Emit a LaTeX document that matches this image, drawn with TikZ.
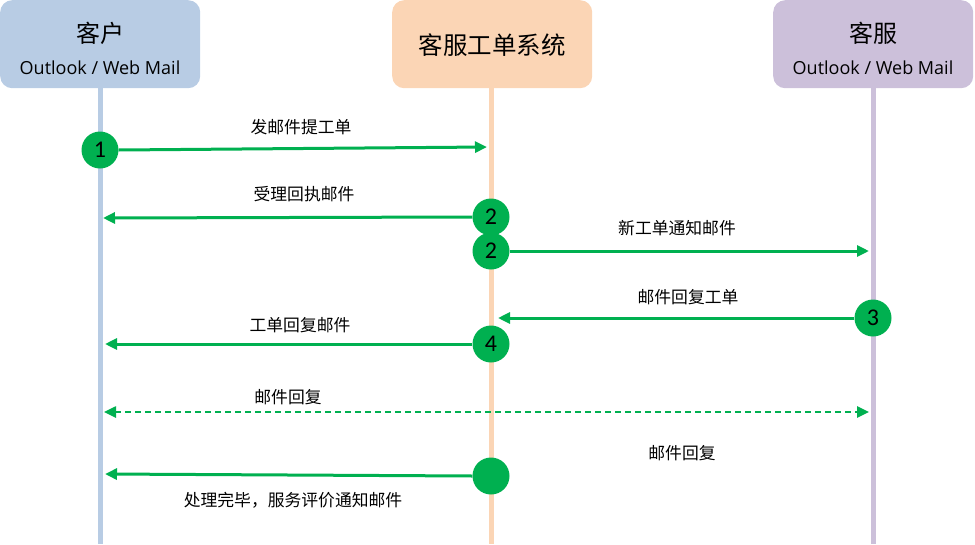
\documentclass[tikz,border=0pt]{standalone}
\usepackage{fontspec}
\setmainfont{Noto Sans CJK SC}
\newfontfamily\latinf{Open Sans}
\newfontfamily\numf{Carlito}
\usetikzlibrary{arrows.meta}
\definecolor{cblue}{HTML}{B8CCE4}
\definecolor{corange}{HTML}{FBD5B5}
\definecolor{cpurple}{HTML}{CCC0DA}
\definecolor{cgreen}{HTML}{00B050}
\begin{document}
\begin{tikzpicture}[x=1pt,y=-1pt,
  head/.style={rounded corners=12pt, minimum width=200pt, minimum height=88pt, inner sep=0pt, anchor=north west},
  life/.style={line width=5pt},
  msg/.style={cgreen, line width=3pt, -{Triangle[length=12pt,width=11pt]}},
  badge/.style={circle, fill=cgreen, minimum size=37pt, inner sep=0pt, font=\numf\fontsize{24}{24}\selectfont},
  lbl/.style={font=\fontsize{16.8}{16.8}\selectfont, inner sep=0pt}
]
\useasboundingbox (0,0) rectangle (975,544);
% lifelines
\draw[life, cblue] (100,80) -- (100,544);
\draw[life, corange] (491,80) -- (491,544);
\draw[life, cpurple] (873,80) -- (873,544);
% heads
\node[head, fill=cblue] (hc) at (0,0) {};
\node[head, fill=corange] (hs) at (392,0) {};
\node[head, fill=cpurple] (ha) at (773,0) {};
\node[font=\fontsize{24}{24}\selectfont, inner sep=0pt] (tc) at (100,33) {客户};
\node[font=\latinf\fontsize{18}{18}\selectfont, inner sep=0pt] (oc) at (100,68) {Outlook / Web Mail};
\node[font=\fontsize{24.5}{24.5}\selectfont, inner sep=0pt] (ts) at (492,45) {客服工单系统};
\node[font=\fontsize{24}{24}\selectfont, inner sep=0pt] (ta) at (873,33) {客服};
\node[font=\latinf\fontsize{18}{18}\selectfont, inner sep=0pt] (oa) at (873,68) {Outlook / Web Mail};
% endpoints
\coordinate (e1) at (487,147);
\coordinate (e2) at (103,218);
\coordinate (e3) at (869,251);
\coordinate (e4) at (498,318);
\coordinate (e5) at (105,344);
\coordinate (e6a) at (104,412);
\coordinate (e6b) at (869,412);
\coordinate (e7) at (105,474);
% badges
\node[badge] (b1) at (100,150) {1};
\node[badge] (b2) at (491,217) {2};
\node[badge] (b3) at (491,251) {2};
\node[badge] (b4) at (873,318) {3};
\node[badge] (b5) at (491,344) {4};
\node[badge] (b6) at (491,476) {};
% messages
\draw[msg] (b1.east) -- (e1);
\draw[msg] (b2.west) -- (e2);
\draw[msg] (b3.east) -- (e3);
\draw[msg] (b4.west) -- (e4);
\draw[msg] (b5.west) -- (e5);
\draw[cgreen, line width=2.5pt, dash pattern=on 6pt off 4pt, {Triangle[length=12pt,width=11pt]}-{Triangle[length=12pt,width=11pt]}] (e6a) -- (e6b);
\draw[msg] (b6.west) -- (e7);
% labels
\node[lbl] (l1) at (301,127) {发邮件提工单};
\node[lbl] (l2) at (304,194) {受理回执邮件};
\node[lbl] (l3) at (677,228) {新工单通知邮件};
\node[lbl] (l4) at (688,297) {邮件回复工单};
\node[lbl] (l5) at (300,325) {工单回复邮件};
\node[lbl] (l6) at (288,397) {邮件回复};
\node[lbl] (l7) at (682,453) {邮件回复};
\node[lbl] (l8) at (293,500) {处理完毕，服务评价通知邮件};
\end{tikzpicture}
\end{document}
